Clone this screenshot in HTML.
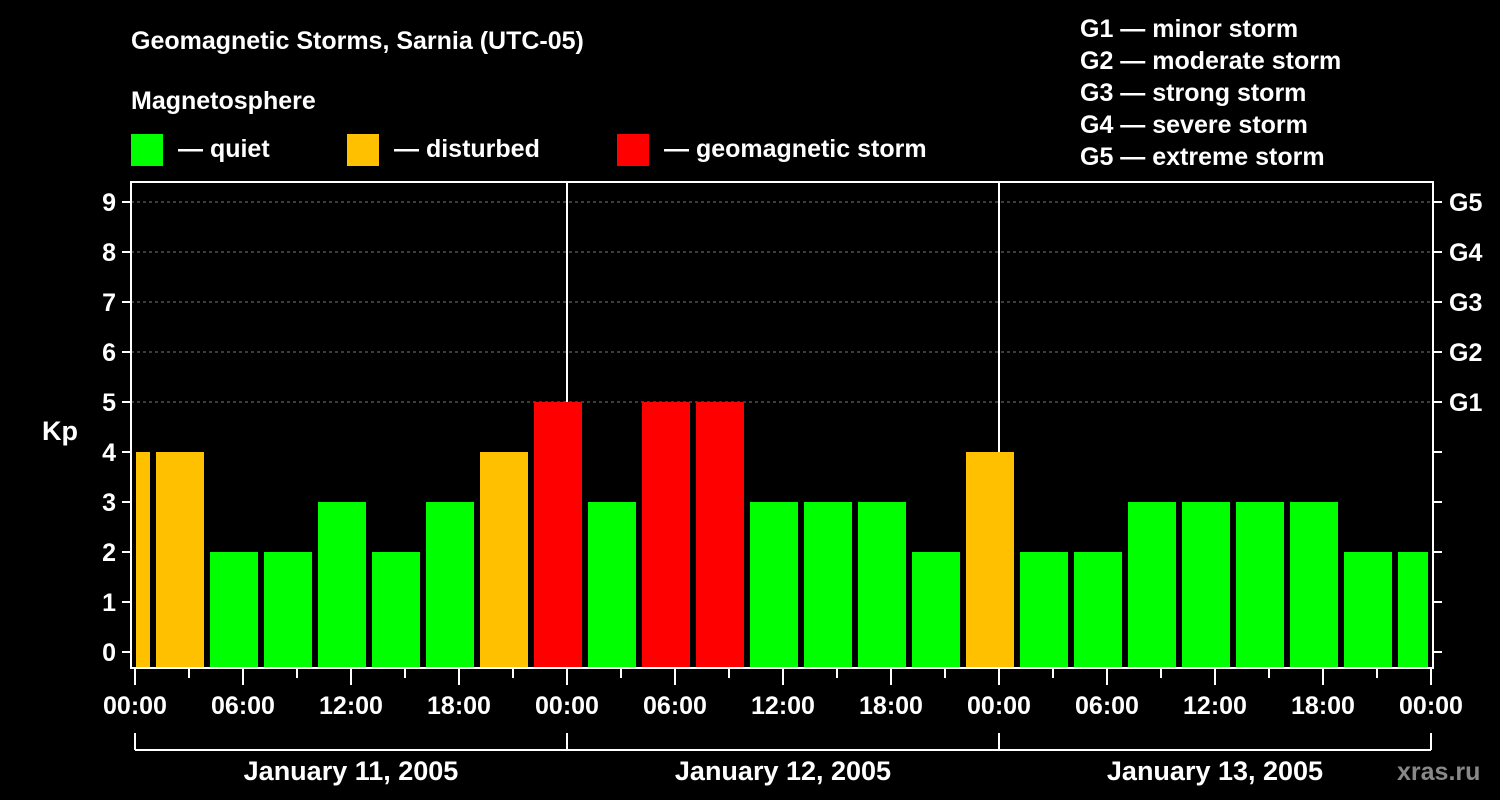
<!DOCTYPE html>
<html><head><meta charset="utf-8"><style>
body{margin:0;background:#000;}
svg{display:block;font-family:"Liberation Sans",Arial,sans-serif;font-weight:bold;}
</style></head><body>
<svg id="chart" width="1500" height="800" viewBox="0 0 1500 800">
<rect width="1500" height="800" fill="#000"/>
<text x="131" y="49" fill="#fff" font-size="25">Geomagnetic Storms, Sarnia (UTC-05)</text>
<text x="131" y="109" fill="#fff" font-size="25">Magnetosphere</text>
<g><rect x="131" y="134" width="32" height="32" fill="#00ff00"/><text x="178" y="157" fill="#fff" font-size="25">— quiet</text></g>
<g><rect x="347" y="134" width="32" height="32" fill="#ffc000"/><text x="394" y="157" fill="#fff" font-size="25">— disturbed</text></g>
<g><rect x="617" y="134" width="32" height="32" fill="#ff0000"/><text x="664" y="157" fill="#fff" font-size="25">— geomagnetic storm</text></g>
<g fill="#fff" font-size="25">
<text x="1080" y="37">G1 — minor storm</text>
<text x="1080" y="69">G2 — moderate storm</text>
<text x="1080" y="101">G3 — strong storm</text>
<text x="1080" y="133">G4 — severe storm</text>
<text x="1080" y="165">G5 — extreme storm</text>
</g>
<text x="42" y="440" fill="#fff" font-size="27">Kp</text>
<text x="1397" y="780" fill="#888" font-size="25">xras.ru</text>
<g id="plot"></g>
</svg>
<script>
const kpValues=[4,4,2,2,3,2,3,4,5,3,5,5,3,3,3,2,4,2,2,3,3,3,3,2,2];
const startHour=-2; // first 3h interval start (hours from Jan 11 00:00)
const dayLabels=["January 11, 2005","January 12, 2005","January 13, 2005"];
const yTicks=[0,1,2,3,4,5,6,7,8,9];
const gLabels=["G1","G2","G3","G4","G5"];
const xTickLabels=["00:00","06:00","12:00","18:00"];

const NS="http://www.w3.org/2000/svg";
const plot=document.getElementById('plot');
const X0=135,PXH=18,LEFT=131,RIGHT=1433,TOP=182,BOTTOM=668;
const xs=h=>X0+h*PXH;
const ys=v=>652-v*50;
function mk(tag,attrs,parent){const e=document.createElementNS(NS,tag);for(const k in attrs)e.setAttribute(k,attrs[k]);(parent||plot).appendChild(e);return e;}
// grid
yTicks.forEach(v=>{if(v>=5){const l=mk('line',{x1:LEFT,x2:RIGHT,y1:ys(v),y2:ys(v),stroke:'#777','stroke-dasharray':'3,3'});

}});
// day separators
for(let d=1;d<dayLabels.length;d++){const l=mk('line',{x1:xs(24*d),x2:xs(24*d),y1:TOP,y2:BOTTOM,stroke:'#fff','stroke-width':2});

}
// bars
const maxX=xs(24*dayLabels.length)-3;
kpValues.forEach((v,i)=>{let a=xs(startHour+3*i)+3,b=a+48;a=Math.max(a,X0+1);b=Math.min(b,maxX);
const c=v>=5?'#ff0000':(v>=4?'#ffc000':'#00ff00');
const r=mk('rect',{x:a,y:ys(v),width:b-a,height:BOTTOM-1-ys(v),fill:c});

});
// frame
const f=mk('rect',{x:LEFT,y:TOP,width:RIGHT-LEFT,height:BOTTOM-TOP,fill:'none',stroke:'#fff','stroke-width':2});


// y ticks
yTicks.forEach(v=>{mk('line',{x1:122,x2:LEFT,y1:ys(v),y2:ys(v),stroke:'#fff','stroke-width':2});
mk('line',{x1:RIGHT,x2:RIGHT+9,y1:ys(v),y2:ys(v),stroke:'#fff','stroke-width':2});
const t=mk('text',{x:116,y:ys(v)+9,fill:'#fff','font-size':25,'text-anchor':'end'});t.textContent=v;


if(v>=5){const g=mk('text',{x:1449,y:ys(v)+9,fill:'#fff','font-size':25});g.textContent=gLabels[v-5];

}});
// x ticks
const totalH=24*dayLabels.length;
for(let h=0;h<=totalH;h+=3){const major=h%6===0;
mk('line',{x1:xs(h),x2:xs(h),y1:BOTTOM,y2:major?685:678,stroke:'#fff','stroke-width':2});
if(major){const t=mk('text',{x:xs(h),y:714,fill:'#fff','font-size':25,'text-anchor':'middle'});t.textContent=xTickLabels[(h%24)/6];

}}
// day bracket
mk('line',{x1:xs(0),x2:xs(totalH),y1:750,y2:750,stroke:'#fff','stroke-width':2});
for(let d=0;d<=dayLabels.length;d++)mk('line',{x1:xs(24*d),x2:xs(24*d),y1:733,y2:750,stroke:'#fff','stroke-width':2});
dayLabels.forEach((s,d)=>{const t=mk('text',{x:xs(24*d+12),y:780,fill:'#fff','font-size':27,'text-anchor':'middle'});t.textContent=s;

});
</script>
</body></html>
